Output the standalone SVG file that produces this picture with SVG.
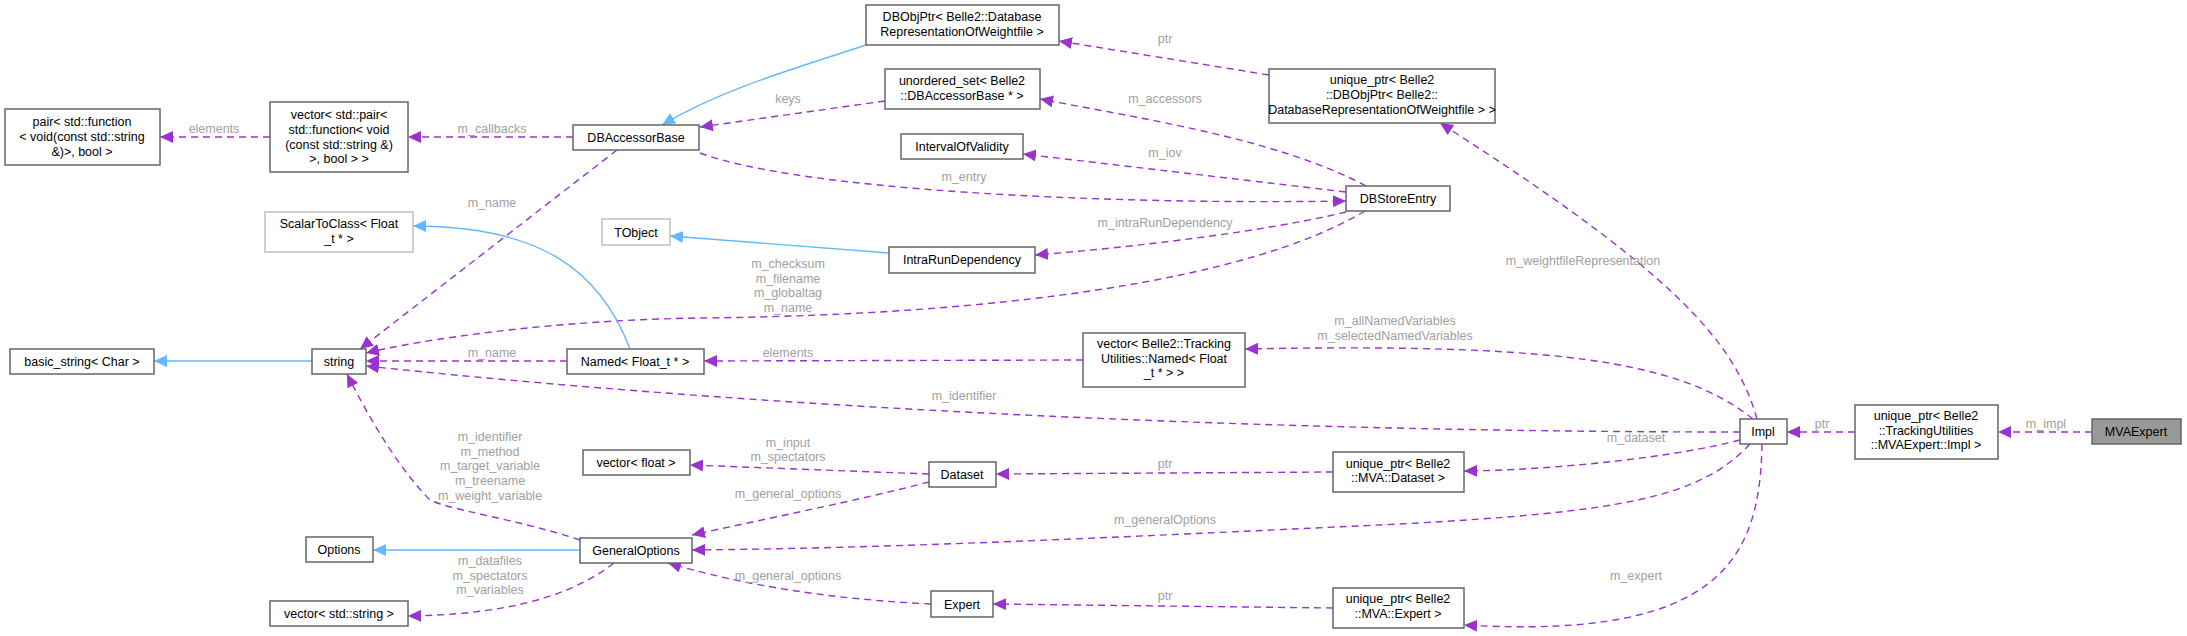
<svg xmlns="http://www.w3.org/2000/svg" width="2187" height="636" viewBox="0 0 2187 636">
<style>
.n rect{fill:#fff;stroke:#666;stroke-width:1.5}
.g rect{stroke:#bfbfbf}
.n text{font-family:"Liberation Sans",Arial,sans-serif;font-size:12.5px;fill:#000;text-anchor:middle}
.e path{fill:none;stroke:#9a32cd;stroke-width:1.4;stroke-dasharray:7,5}
.e path.i{stroke:#63b8ff;stroke-dasharray:none}
.l{font-family:"Liberation Sans",Arial,sans-serif;font-size:12.5px;fill:#a0a0a0;text-anchor:middle}
</style>
<defs>
<marker id="p" markerUnits="userSpaceOnUse" markerWidth="14" markerHeight="12" refX="13" refY="6" orient="auto"><path d="M0,0 L13,6 L0,12 z" fill="#9a32cd"/></marker>
<marker id="b" markerUnits="userSpaceOnUse" markerWidth="14" markerHeight="12" refX="13" refY="6" orient="auto"><path d="M0,0 L13,6 L0,12 z" fill="#63b8ff"/></marker>
</defs>
<rect width="2187" height="636" fill="#fff"/>
<g id="edges" class="e">
<path d="M270,137 L160,137" marker-end="url(#p)"/>
<path d="M573,137 L408,137" marker-end="url(#p)"/>
<path d="M617,150 L360,349" marker-end="url(#p)"/>
<path class="i" d="M866,45 C790,70 720,90 662,125" marker-end="url(#b)"/>
<path d="M885,101 L700,127" marker-end="url(#p)"/>
<path d="M1366,186 C1280,140 1150,120 1040,99" marker-end="url(#p)"/>
<path d="M1269,75 L1059,41" marker-end="url(#p)"/>
<path d="M1346,192 L1023,154" marker-end="url(#p)"/>
<path d="M700,153 C800,190 1100,205 1346,201" marker-end="url(#p)"/>
<path d="M1346,212 C1250,235 1100,250 1035,255" marker-end="url(#p)"/>
<path class="i" d="M889,253 L670,236" marker-end="url(#b)"/>
<path d="M1365,211 C1250,280 1000,315 700,318 C550,320 420,340 366,353" marker-end="url(#p)"/>
<path class="i" d="M630,349 C600,270 540,226 413,226" marker-end="url(#b)"/>
<path class="i" d="M312,361 L154,361" marker-end="url(#b)"/>
<path d="M567,361 L366,361" marker-end="url(#p)"/>
<path d="M1083,360 L704,361" marker-end="url(#p)"/>
<path d="M1740,432 C1300,432 800,412 366,366" marker-end="url(#p)"/>
<path d="M1753,419 C1680,360 1550,343 1245,349" marker-end="url(#p)"/>
<path d="M1757,419 C1735,340 1670,270 1440,123" marker-end="url(#p)"/>
<path d="M1740,440 C1680,456 1560,470 1464,471" marker-end="url(#p)"/>
<path d="M1750,444 C1700,498 1620,512 1400,524 C1100,538 900,548 692,550" marker-end="url(#p)"/>
<path d="M1762,444 C1760,560 1720,640 1464,625" marker-end="url(#p)"/>
<path d="M1855,432 L1787,432" marker-end="url(#p)"/>
<path d="M2092,432 L1998,432" marker-end="url(#p)"/>
<path d="M1333,472 L996,474" marker-end="url(#p)"/>
<path d="M929,474 L690,465" marker-end="url(#p)"/>
<path d="M929,482 C860,500 760,520 692,535" marker-end="url(#p)"/>
<path d="M1333,608 L993,604" marker-end="url(#p)"/>
<path d="M931,604 C850,600 760,590 668,563" marker-end="url(#p)"/>
<path class="i" d="M580,550 L373,550" marker-end="url(#b)"/>
<path d="M614,563 C560,605 480,615 408,616" marker-end="url(#p)"/>
<path d="M580,540 C520,520 450,510 430,500 C400,470 370,420 347,374" marker-end="url(#p)"/>
</g>
<g id="labels">
<text class="l" x="214" y="133">elements</text>
<text class="l" x="492" y="133">m_callbacks</text>
<text class="l" x="492" y="207">m_name</text>
<text class="l" x="1165" y="43">ptr</text>
<text class="l" x="788" y="103">keys</text>
<text class="l" x="1165" y="103">m_accessors</text>
<text class="l" x="1165" y="157">m_iov</text>
<text class="l" x="964" y="181">m_entry</text>
<text class="l" x="1165" y="227">m_intraRunDependency</text>
<text class="l" x="788" y="268">m_checksum</text>
<text class="l" x="788" y="283">m_filename</text>
<text class="l" x="788" y="297">m_globaltag</text>
<text class="l" x="788" y="312">m_name</text>
<text class="l" x="492" y="357">m_name</text>
<text class="l" x="788" y="357">elements</text>
<text class="l" x="1395" y="325">m_allNamedVariables</text>
<text class="l" x="1395" y="340">m_selectedNamedVariables</text>
<text class="l" x="1583" y="265">m_weightfileRepresentation</text>
<text class="l" x="964" y="400">m_identifier</text>
<text class="l" x="490" y="441">m_identifier</text>
<text class="l" x="490" y="456">m_method</text>
<text class="l" x="490" y="470">m_target_variable</text>
<text class="l" x="490" y="485">m_treename</text>
<text class="l" x="490" y="500">m_weight_variable</text>
<text class="l" x="788" y="447">m_input</text>
<text class="l" x="788" y="461">m_spectators</text>
<text class="l" x="1165" y="468">ptr</text>
<text class="l" x="1636" y="442">m_dataset</text>
<text class="l" x="788" y="498">m_general_options</text>
<text class="l" x="1165" y="524">m_generalOptions</text>
<text class="l" x="490" y="565">m_datafiles</text>
<text class="l" x="490" y="580">m_spectators</text>
<text class="l" x="490" y="594">m_variables</text>
<text class="l" x="788" y="580">m_general_options</text>
<text class="l" x="1165" y="600">ptr</text>
<text class="l" x="1636" y="580">m_expert</text>
<text class="l" x="1822" y="428">ptr</text>
<text class="l" x="2046" y="428">m_impl</text>
</g>
<g id="pair" class="n"><rect x="5" y="109" width="155" height="56"/><text x="82" y="126">pair&lt; std::function</text><text x="82" y="141">&lt; void(const std::string</text><text x="82" y="156">&amp;)&gt;, bool &gt;</text></g>
<g id="vecpair" class="n"><rect x="270" y="102" width="138" height="70"/><text x="339" y="119">vector&lt; std::pair&lt;</text><text x="339" y="134">std::function&lt; void</text><text x="339" y="149">(const std::string &amp;)</text><text x="339" y="163">&gt;, bool &gt; &gt;</text></g>
<g id="dbaccessorbase" class="n"><rect x="573" y="125" width="126" height="25"/><text x="636" y="142">DBAccessorBase</text></g>
<g id="scalartoclass" class="n g"><rect x="265" y="212" width="148" height="40"/><text x="339" y="228">ScalarToClass&lt; Float</text><text x="339" y="243">_t * &gt;</text></g>
<g id="tobject" class="n g"><rect x="602" y="219" width="68" height="26"/><text x="636" y="237">TObject</text></g>
<g id="basicstring" class="n"><rect x="10" y="349" width="144" height="25"/><text x="82" y="366">basic_string&lt; Char &gt;</text></g>
<g id="string" class="n"><rect x="312" y="349" width="54" height="25"/><text x="339" y="366">string</text></g>
<g id="named" class="n"><rect x="567" y="349" width="137" height="25"/><text x="635" y="366">Named&lt; Float_t * &gt;</text></g>
<g id="vecfloat" class="n"><rect x="583" y="450" width="107" height="25"/><text x="636" y="467">vector&lt; float &gt;</text></g>
<g id="options" class="n"><rect x="306" y="537" width="67" height="25"/><text x="339" y="554">Options</text></g>
<g id="generaloptions" class="n"><rect x="580" y="538" width="112" height="25"/><text x="636" y="555">GeneralOptions</text></g>
<g id="vecstring" class="n"><rect x="270" y="601" width="138" height="25"/><text x="339" y="618">vector&lt; std::string &gt;</text></g>
<g id="dbobjptr" class="n"><rect x="866" y="5" width="193" height="40"/><text x="962" y="21">DBObjPtr&lt; Belle2::Database</text><text x="962" y="36">RepresentationOfWeightfile &gt;</text></g>
<g id="unorderedset" class="n"><rect x="885" y="69" width="155" height="40"/><text x="962" y="85">unordered_set&lt; Belle2</text><text x="962" y="100">::DBAccessorBase * &gt;</text></g>
<g id="iov" class="n"><rect x="901" y="134" width="122" height="25"/><text x="962" y="151">IntervalOfValidity</text></g>
<g id="intrarun" class="n"><rect x="889" y="247" width="146" height="26"/><text x="962" y="264">IntraRunDependency</text></g>
<g id="vectracking" class="n"><rect x="1083" y="333" width="162" height="54"/><text x="1164" y="348">vector&lt; Belle2::Tracking</text><text x="1164" y="363">Utilities::Named&lt; Float</text><text x="1164" y="377">_t * &gt; &gt;</text></g>
<g id="dataset" class="n"><rect x="929" y="462" width="67" height="25"/><text x="962" y="479">Dataset</text></g>
<g id="expert" class="n"><rect x="931" y="591" width="62" height="26"/><text x="962" y="609">Expert</text></g>
<g id="dbstoreentry" class="n"><rect x="1346" y="186" width="104" height="25"/><text x="1398" y="203">DBStoreEntry</text></g>
<g id="uniqdbobj" class="n"><rect x="1269" y="69" width="226" height="54"/><text x="1382" y="84">unique_ptr&lt; Belle2</text><text x="1382" y="99">::DBObjPtr&lt; Belle2::</text><text x="1382" y="114">DatabaseRepresentationOfWeightfile &gt; &gt;</text></g>
<g id="uniqdataset" class="n"><rect x="1333" y="452" width="131" height="40"/><text x="1398" y="468">unique_ptr&lt; Belle2</text><text x="1398" y="482">::MVA::Dataset &gt;</text></g>
<g id="uniqexpert" class="n"><rect x="1333" y="588" width="131" height="40"/><text x="1398" y="603">unique_ptr&lt; Belle2</text><text x="1398" y="618">::MVA::Expert &gt;</text></g>
<g id="impl" class="n"><rect x="1740" y="419" width="47" height="25"/><text x="1763" y="436">Impl</text></g>
<g id="uniqimpl" class="n"><rect x="1855" y="405" width="143" height="54"/><text x="1926" y="420">unique_ptr&lt; Belle2</text><text x="1926" y="435">::TrackingUtilities</text><text x="1926" y="449">::MVAExpert::Impl &gt;</text></g>
<g id="mvaexpert" class="n"><rect x="2092" y="419" width="89" height="25" style="fill:#999"/><text x="2136" y="436">MVAExpert</text></g>
</svg>
